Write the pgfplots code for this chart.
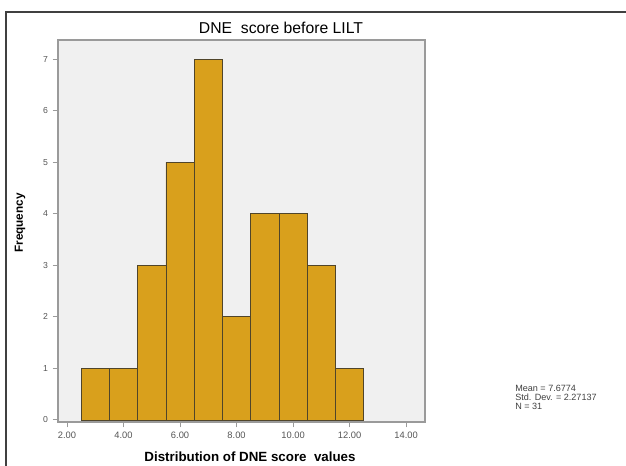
\documentclass[border=0pt]{standalone}
\usepackage{fontspec}
\setmainfont{Liberation Sans}
\usepackage{pgfplots}
\pgfplotsset{compat=1.18}
\definecolor{barfill}{HTML}{D9A01C}
\definecolor{baredge}{HTML}{50452A}
\definecolor{plotbg}{HTML}{F0F0F0}
\definecolor{axisgray}{HTML}{9A9A9A}
\definecolor{ticktext}{HTML}{555555}
% one "px" = 0.75pt; y measured upward from the bottom edge
\def\u{0.75pt}
\begin{document}
\begin{tikzpicture}
\useasboundingbox (0,0) rectangle (626*\u,466*\u);
% outer frame (top and left edges)
\draw[line width=1.2pt, black!75] (6*\u,-5*\u) -- (6*\u,454*\u) -- (640*\u,454*\u);
\begin{axis}[
  at={(58*\u,44*\u)}, anchor=south west,
  width=367*\u, height=382*\u, scale only axis,
  xmin=1.68, xmax=14.67, ymin=-0.04, ymax=7.37,
  axis background/.style={fill=plotbg},
  axis line style={axisgray, line width=0.9pt},
  xtick={2,4,...,14}, ytick={0,1,...,7},
  xticklabels={2.00,4.00,6.00,8.00,10.00,12.00,14.00},
  tick align=outside, major tick length=4pt,
  tick style={axisgray, line width=0.8pt},
  xtick pos=bottom, ytick pos=left,
  /pgf/number format/assume math mode=true,
  x tick label style={font=\fontsize{7}{8}\selectfont, text=ticktext},
  y tick label style={font=\fontsize{6.5}{8}\selectfont, text=ticktext},
  clip=false,
]
\addplot[ybar interval, fill=barfill, draw=baredge, line width=0.6pt]
  coordinates {(2.5,1) (3.5,1) (4.5,3) (5.5,5) (6.5,7) (7.5,2)
               (8.5,4) (9.5,4) (10.5,3) (11.5,1) (12.5,1)};
\end{axis}
% titles and labels
\node[font=\fontsize{11.8}{13}\selectfont] at (281*\u,438*\u) {DNE\ \ score before LILT};
\node[font=\bfseries\fontsize{10}{12}\selectfont, anchor=base] at (250*\u,4*\u) {Distribution of DNE score\ \ values};
\node[font=\bfseries\fontsize{8.8}{10}\selectfont, rotate=90] at (20*\u,243*\u) {Frequency};
% summary statistics
\node[anchor=north west, align=left, inner sep=0pt, text=black!75,
      font=\fontsize{6.8}{6.6}\selectfont] at (515*\u,81*\u)
  {Mean = 7.6774\\Std. Dev. = 2.27137\\N = 31};
\end{tikzpicture}
\end{document}
